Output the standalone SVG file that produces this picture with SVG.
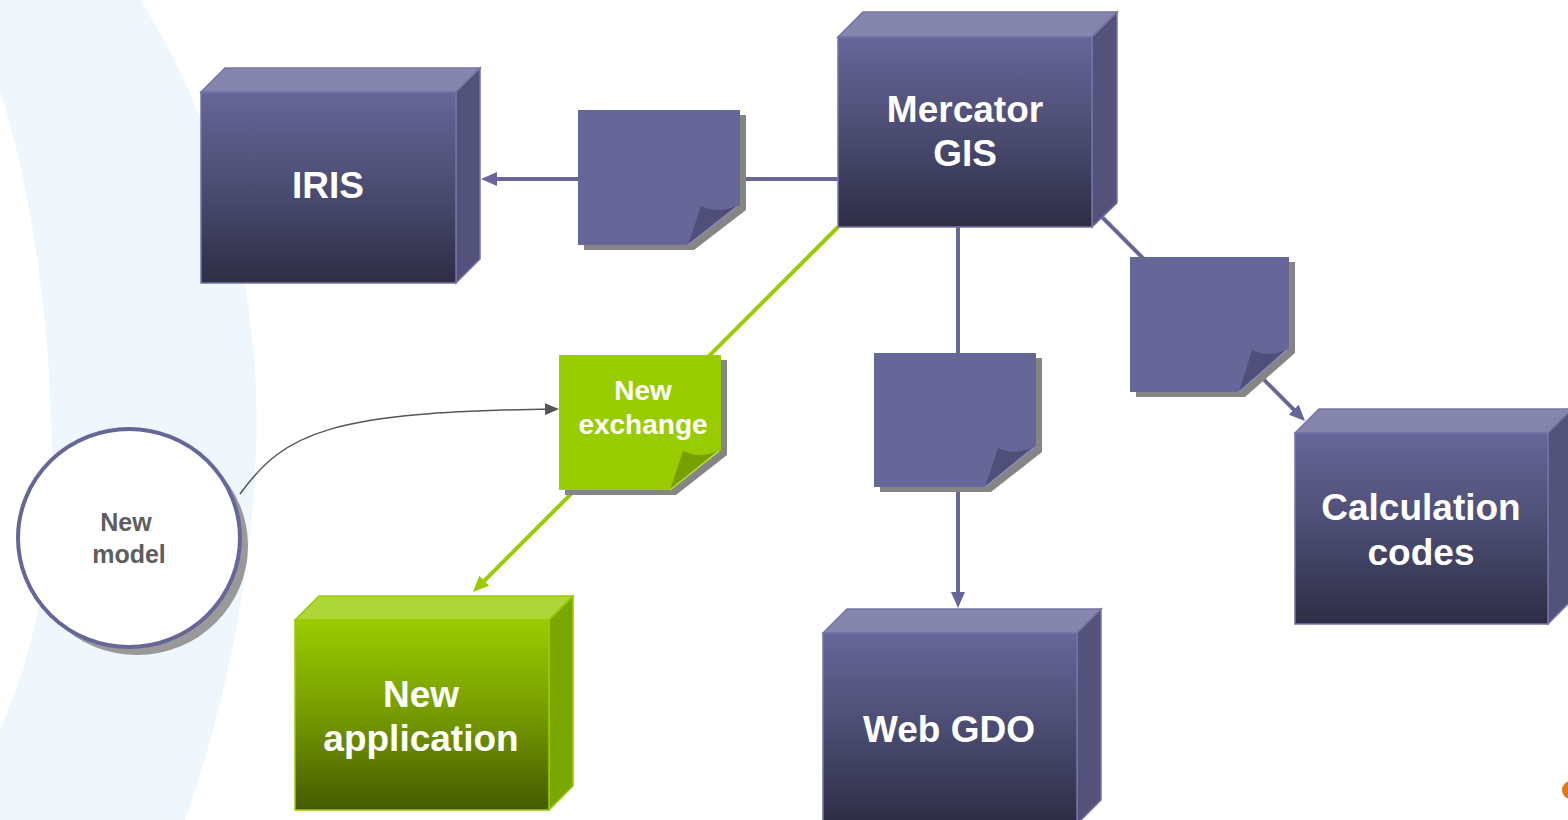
<svg xmlns="http://www.w3.org/2000/svg" width="1568" height="820" viewBox="0 0 1568 820">
<style>
.lbl{font-family:"Liberation Sans",Arial,sans-serif;font-weight:bold;fill:#ffffff;text-anchor:middle}
.big{font-size:37px}
.mid{font-size:28px}
.small{font-size:25px;fill:#5e5e5e}
.front{fill:url(#gPurple);stroke:#7474a6;stroke-width:1.5}
.top{fill:#8585ad;stroke:#7474a6;stroke-width:1.5}
.side{fill:#52527a;stroke:#7474a6;stroke-width:1.5}
.gfront{fill:url(#gGreen);stroke:#99cc00;stroke-width:1.5}
.gtop{fill:#aed638;stroke:#99cc00;stroke-width:1.5}
.gside{fill:#7aa600;stroke:#99cc00;stroke-width:1.5}
.note{fill:#666699}
.nshadow{fill:#858585}
.fold{fill:#4f4f7a}
.gnote{fill:#99cc00}
.gfold{fill:#779f00}
.conn{fill:none;stroke:#666699;stroke-width:4}
.gconn{fill:none;stroke:#99cc00;stroke-width:4}
</style>
<defs>
<linearGradient id="gPurple" x1="0" y1="0" x2="0" y2="1">
<stop offset="0" stop-color="#666699"/>
<stop offset="0.5" stop-color="#4c4c72"/>
<stop offset="1" stop-color="#2d2d45"/>
</linearGradient>
<linearGradient id="gGreen" x1="0" y1="0" x2="0" y2="1">
<stop offset="0" stop-color="#99cc00"/>
<stop offset="0.5" stop-color="#759a00"/>
<stop offset="1" stop-color="#465a00"/>
</linearGradient>
<marker id="aP" viewBox="0 0 16 14" markerWidth="16" markerHeight="14" refX="10" refY="7" orient="auto" markerUnits="userSpaceOnUse">
<path d="M0,0 L16,7 L0,14 Z" fill="#666699"/>
</marker>
<marker id="aG" viewBox="0 0 16 14" markerWidth="16" markerHeight="14" refX="10" refY="7" orient="auto" markerUnits="userSpaceOnUse">
<path d="M0,0 L16,7 L0,14 Z" fill="#99cc00"/>
</marker>
<marker id="aK" viewBox="0 0 14 12" markerWidth="14" markerHeight="12" refX="8" refY="6" orient="auto" markerUnits="userSpaceOnUse">
<path d="M0,0 L14,6 L0,12 Z" fill="#555555"/>
</marker>
</defs>
<rect width="1568" height="820" fill="#ffffff"/>
<path d="M0,0 H140 C220,120 262,300 256,450 C250,600 220,720 185,820 H0 V730 C40,640 55,540 52,450 C50,330 35,200 0,90 Z" fill="#eff6fc"/>
<circle cx="1571" cy="790" r="9" fill="#e8731e"/>

<g id="connectors">
<path class="conn" d="M838,179 H487" marker-end="url(#aP)"/>
<path class="conn" d="M958,227 V602" marker-end="url(#aP)"/>
<path class="conn" d="M1100,215 L1300.8,416.7" marker-end="url(#aP)"/>
<path class="gconn" d="M838,227 L477.2,587.8" marker-end="url(#aG)"/>
<path d="M240,494 C285,432 330,412 553,409" fill="none" stroke="#555555" stroke-width="1.5" marker-end="url(#aK)"/>
</g>

<g id="iris" transform="translate(201,92)">
<path class="top" d="M0,0 L24,-24 H279 L255,0 Z"/>
<path class="side" d="M255,0 L279,-24 V167 L255,191 Z"/>
<rect class="front" x="0" y="0" width="255" height="191"/>
<text class="lbl big" x="127" y="106">IRIS</text>
</g>

<g id="mercator" transform="translate(838,37)">
<path class="top" d="M0,0 L25,-25 H279 L254,0 Z"/>
<path class="side" d="M254,0 L279,-25 V166 L254,190 Z"/>
<rect class="front" x="0" y="0" width="254" height="190"/>
<text class="lbl big" x="127" y="85">Mercator</text>
<text class="lbl big" x="127" y="129">GIS</text>
</g>

<g id="calc" transform="translate(1295,433)">
<path class="top" d="M0,0 L24,-24 H277 L253,0 Z"/>
<path class="side" d="M253,0 L277,-24 V167 L253,191 Z"/>
<rect class="front" x="0" y="0" width="253" height="191"/>
<text class="lbl big" x="126" y="87">Calculation</text>
<text class="lbl big" x="126" y="132">codes</text>
</g>

<g id="webgdo" transform="translate(823,633)">
<path class="top" d="M0,0 L24,-24 H278 L254,0 Z"/>
<path class="side" d="M254,0 L278,-24 V167 L254,191 Z"/>
<rect class="front" x="0" y="0" width="254" height="191"/>
<text class="lbl big" x="126" y="109">Web GDO</text>
</g>

<g id="newapp" transform="translate(295,620)">
<path class="gtop" d="M0,0 L24,-24 H278 L254,0 Z"/>
<path class="gside" d="M254,0 L278,-24 V166 L254,190 Z"/>
<rect class="gfront" x="0" y="0" width="254" height="190"/>
<text class="lbl big" x="126" y="87">New</text>
<text class="lbl big" x="126" y="131">application</text>
</g>

<g id="note1" transform="translate(578,110)">
<path class="nshadow" d="M6,5 H168 V100 L116,140 H6 Z"/>
<path class="note" d="M0,0 H162 V95 L110,135 H0 Z"/>
<path class="fold" d="M110,135 L123,96 Q140,104 158,96 Z"/>
<path d="M110,135 L160,96" stroke="#8a8ab8" stroke-width="1.5" fill="none"/>
</g>

<g id="note2" transform="translate(874,353)">
<path class="nshadow" d="M6,5 H168 V99 L117,139 H6 Z"/>
<path class="note" d="M0,0 H162 V93 L111,134 H0 Z"/>
<path class="fold" d="M111,134 L124,95 Q141,103 158,94 Z"/>
<path d="M111,134 L160,95" stroke="#8a8ab8" stroke-width="1.5" fill="none"/>
</g>

<g id="note3" transform="translate(1130,257)">
<path class="nshadow" d="M6,5 H165 V96 L115,140 H6 Z"/>
<path class="note" d="M0,0 H159 V91 L109,135 H0 Z"/>
<path class="fold" d="M109,135 L122,93 Q139,101 155,93 Z"/>
<path d="M109,135 L157,93" stroke="#8a8ab8" stroke-width="1.5" fill="none"/>
</g>

<g id="exchange" transform="translate(559,355)">
<path class="nshadow" d="M6,5 H168 V100 L117,140 H6 Z"/>
<path class="gnote" d="M0,0 H162 V95 L111,135 H0 Z"/>
<path class="gfold" d="M111,135 L124,96 Q141,104 158,96 Z"/>
<path d="M111,135 L160,96" stroke="#b5e040" stroke-width="1.5" fill="none"/>
<text class="lbl mid" x="84" y="45">New</text>
<text class="lbl mid" x="84" y="79">exchange</text>
</g>

<g id="newmodel">
<ellipse cx="137" cy="546" rx="111" ry="109" fill="#999999"/>
<ellipse cx="129" cy="538" rx="111" ry="109" fill="#ffffff" stroke="#666699" stroke-width="4"/>
<text class="lbl small" x="126" y="531">New</text>
<text class="lbl small" x="129" y="563">model</text>
</g>
</svg>
